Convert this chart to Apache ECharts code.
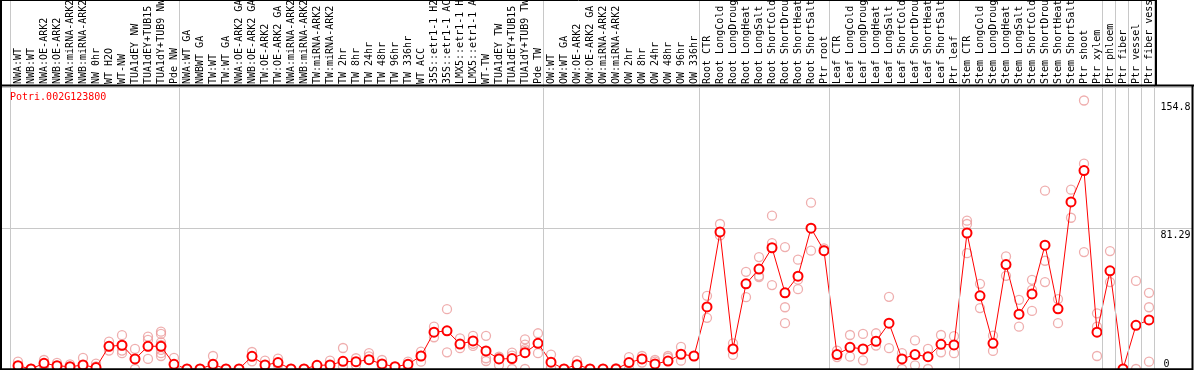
<!DOCTYPE html>
<html><head><meta charset="utf-8">
<script src="https://cdn.jsdelivr.net/npm/echarts@6/dist/echarts.min.js"></script>
<style>html,body{margin:0;padding:0;background:#fff;overflow:hidden}#c{width:1194px;height:370px}</style>
</head><body><div id="c"></div>
<script>
const title = 'Potri.002G123800';
const categories = [
 'NWA:WT','NWB:WT','NWA:OE-ARK2','NWB:OE-ARK2','NWA:miRNA-ARK2','NWB:miRNA-ARK2','NW 0hr','WT H2O','WT-NW','TUA1dEY NW','TUA1dEY+TUB15 NW','TUA1dY+TUB9 NW','Pde NW',
 'NWA:WT GA','NWBWT GA','TW:WT','TW:WT GA','NWA:OE-ARK2 GA','NWB:OE-ARK2 GA','TW:OE-ARK2','TW:OE-ARK2 GA','NWA:miRNA-ARK2 GA','NWB:miRNA-ARK2 GA','TW:miRNA-ARK2','TW:miRNA-ARK2 GA',
 'TW 2hr','TW 8hr','TW 24hr','TW 48hr','TW 96hr','TW 336hr','WT ACC','35S::etr1-1 H2O','35S::etr1-1 ACC','LMX5::etr1-1 H2O','LMX5::etr1-1 ACC','WT-TW','TUA1dEY TW','TUA1dEY+TUB15 TW','TUA1dY+TUB9 TW','Pde TW',
 'OW:WT','OW:WT GA','OW:OE-ARK2','OW:OE-ARK2 GA','OW:miRNA-ARK2','OW:miRNA-ARK2 GA','OW 2hr','OW 8hr','OW 24hr','OW 48hr','OW 96hr','OW 336hr',
 'Root CTR','Root LongCold','Root LongDrought','Root LongHeat','Root LongSalt','Root ShortCold','Root ShortDrought','Root ShortHeat','Root ShortSalt','Ptr root',
 'Leaf CTR','Leaf LongCold','Leaf LongDrought','Leaf LongHeat','Leaf LongSalt','Leaf ShortCold','Leaf ShortDrought','Leaf ShortHeat','Leaf ShortSalt','Ptr leaf',
 'Stem CTR','Stem LongCold','Stem LongDrought','Stem LongHeat','Stem LongSalt','Stem ShortCold','Stem ShortDrought','Stem ShortHeat','Stem ShortSalt','Ptr shoot','Ptr xylem',
 'Ptr phloem','Ptr fiber','Ptr vessel','Ptr fiber vessel'
];
const groupSizes = [13, 28, 12, 10, 10, 11, 1, 1, 1, 1];
const means = [
 1.9,0,3.3,1.9,1.3,2.3,0.8,13.1,13.7,5.8,13.1,13.1,2.7,
 0,0,2.7,0,0,7.3,2.3,3.7,0,0,2.1,2.3,4.4,4.2,5.4,2.9,1.3,2.7,7.5,21.2,22,14.4,16.2,10.4,5.8,6,9.4,14.8,
 3.9,0,2.5,0,0,0,3.7,5.8,2.9,4.6,8.5,7.5,
 35.8,79.0,11.6,49.1,57.6,69.9,43.9,53.5,81.2,68.2,
 8.3,12.5,11.6,16,26.4,5.8,8.3,7.1,14.2,13.9,
 78.4,42.2,14.8,60.2,31.6,43.3,71.4,34.7,96.3,114.4,21.2,
 56.6,0,25.2,28.3
];
const replicates = [
 [4.2,1.5,0],[0,0],[5.2,1.7,2.5],[3.5,1.0,0.8],[2.7,0,0.9],[6.4,0.6],[3.1,1.5,0],[15.8,10.6,13.0],[19.5,9.1,10.6,13.5],[11.6,0,5.8],[18.7,16.8,5.8,13.0],[21.5,20.2,15.4,13.9,11,9.1,7.5],[6.4,0],
 [0],[0],[7.5,0],[0],[0],[9.8,4.4],[4.8,0],[6,2.3],[0],[0],[0.5],[4.8,0.8],[12.1,1.5],[6.2,2.3],[9.1,7.3],[5.2,1.0],[0.5],[4.2,1.0],[10,4.2,7.5],[24.4,18.3],[34.5,9.6],[17.7,12],[19.1,13.3,14.5],[19.1,6.2,4.6],[7.1,2.3,6.5],[9.4,7.7,0],[17.1,14,11.5,10.5,0],[20.6,9.1],
 [8.3,0.8],[0],[4.8,0],[0],[0],[0.5],[6.9,0],[7.5,3.7],[5.2,4.2],[7.5,6.5],[12.7,4.8],[7.5],
 [42.2,29.5],[83.6,77],[14.8,8.1],[56,41.4],[64.5,53.7,53],[88.4,72.6,48.4],[70.3,35.6,26.4],[63,51.5,46],[95.9,68.2],[69.5,68.5],
 [10.6,6.9],[19.6,7.1],[20.2,5],[20.6,13.5],[41.6,12],[9.1,0],[16.5,2.1],[11.6,0],[19.6,9.6],[18.9,9.1],
 [85.5,83.6,66.8],[49.1,35.1],[19.2,10.4],[64.9,53.7],[39.9,24.4],[51.4,45.6,33.5],[102.8,62.4,50.1],[40.3,26.4],[103.4,87.2],[154.8,118.4,67.4],[32.1,24.4,7.5],
 [68,50.1],[0],[50.8,0],[43.9,35.6,4.2]
];
const yMax = 162.58;
const yTickLabels = [81.29, 154.8];
const yZeroLabel = [0];

const FONT = 'DejaVu Sans Mono';
const boundaries = [0];
groupSizes.forEach(s => boundaries.push(boundaries[boundaries.length - 1] + s));
const repData = [];
replicates.forEach((arr, i) => arr.forEach(v => repData.push([i, v])));

const chart = echarts.init(document.getElementById('c'), null, {renderer: 'canvas'});
const labelStyle = {fontFamily: FONT, fontSize: 10, color: '#000'};
chart.setOption({
  animation: false,
  title: {text: title, left: 10, top: 92, padding: 0, textStyle: {fontFamily: FONT, fontSize: 10, fontWeight: 'normal', color: '#ff0000'}},
  grid: [
    {left: 11.5, top: 87, width: 1144, height: 282, outerBoundsMode: 'none', containLabel: false},
    {left: 10, top: 0, width: 1144, height: 369, outerBoundsMode: 'none', containLabel: false},
    {left: 0, top: 87, width: 1192, height: 282, outerBoundsMode: 'none', containLabel: false}
  ],
  xAxis: [
    {gridIndex: 0, type: 'category', data: categories, position: 'top', boundaryGap: true,
     axisLine: {show: false}, axisTick: {show: false}, splitLine: {show: false},
     axisLabel: Object.assign({interval: 0, rotate: 90, margin: 3}, labelStyle)},
    {gridIndex: 1, type: 'value', min: 0, max: categories.length, show: false},
    {gridIndex: 2, type: 'value', min: 0, max: 1, show: false}
  ],
  yAxis: [
    {gridIndex: 0, type: 'value', min: 0, max: yMax, position: 'right',
     axisLine: {show: false}, axisTick: {show: false}, splitLine: {show: false},
     axisLabel: Object.assign({customValues: yTickLabels, margin: 5, verticalAlign: 'top', padding: [2, 0, 0, 0], formatter: v => String(v)}, labelStyle)},
    {gridIndex: 0, type: 'value', min: 0, max: yMax, position: 'right',
     axisLine: {show: false}, axisTick: {show: false}, splitLine: {show: false},
     axisLabel: Object.assign({customValues: yZeroLabel, margin: 8, verticalAlign: 'bottom', formatter: v => String(v)}, labelStyle)},
    {gridIndex: 1, type: 'value', min: 0, max: 1, show: false},
    {gridIndex: 2, type: 'value', min: 0, max: yMax, interval: yMax / 2,
     axisLine: {show: false}, axisTick: {show: false}, axisLabel: {show: false},
     splitLine: {show: true, lineStyle: {color: '#c8c8c8', width: 1}}}
  ],
  series: [
    {type: 'line', xAxisIndex: 1, yAxisIndex: 2, data: [[0, -1]], symbol: 'none', silent: true,
     lineStyle: {opacity: 0}, z: 1,
     markLine: {silent: true, symbol: 'none', animation: false, label: {show: false},
       lineStyle: {color: '#c8c8c8', type: 'solid', width: 1},
       data: boundaries.map(b => ({xAxis: b}))}},
    {type: 'scatter', xAxisIndex: 0, yAxisIndex: 0, data: repData, symbol: 'circle', symbolSize: 9, silent: true, z: 3,
     itemStyle: {color: 'rgba(0,0,0,0)', borderColor: '#eb9a9a', borderWidth: 1.3}},
    {type: 'line', xAxisIndex: 0, yAxisIndex: 0, data: means, symbol: 'emptyCircle', symbolSize: 9, showAllSymbol: true, silent: true, z: 4,
     lineStyle: {color: '#ff0000', width: 1},
     itemStyle: {color: '#ff0000', borderColor: '#ff0000', borderWidth: 1.6}}
  ],
  graphic: [
    {type: 'line', z: 100, shape: {x1: 1, y1: 0, x2: 1, y2: 370}, style: {stroke: '#000', lineWidth: 2}},
    {type: 'line', z: 100, shape: {x1: 0, y1: 0.5, x2: 1157, y2: 0.5}, style: {stroke: '#000', lineWidth: 1}},
    {type: 'line', z: 100, shape: {x1: 1156, y1: 0, x2: 1156, y2: 86}, style: {stroke: '#000', lineWidth: 2}},
    {type: 'line', z: 100, shape: {x1: 0, y1: 85.5, x2: 1194, y2: 85.5}, style: {stroke: '#000', lineWidth: 2}},
    {type: 'line', z: 100, shape: {x1: 1192.5, y1: 85, x2: 1192.5, y2: 370}, style: {stroke: '#000', lineWidth: 2}},
    {type: 'line', z: 100, shape: {x1: 0, y1: 369.2, x2: 1193, y2: 369.2}, style: {stroke: '#000', lineWidth: 2}}
  ]
});
</script></body></html>
